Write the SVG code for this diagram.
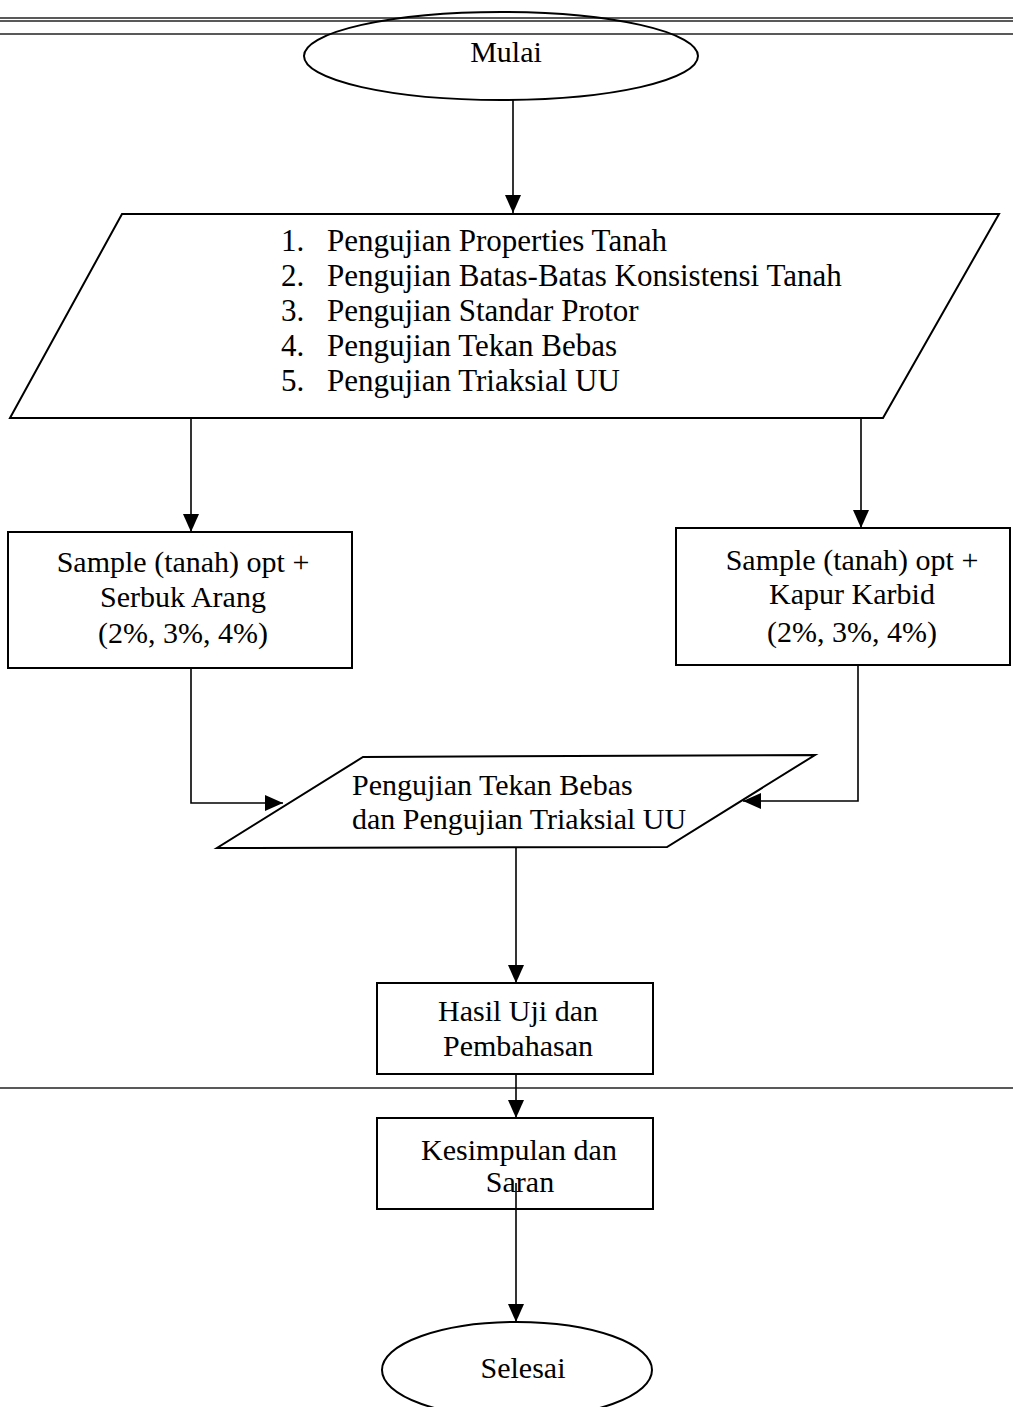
<svg xmlns="http://www.w3.org/2000/svg" width="1013" height="1407" viewBox="0 0 1013 1407">
<style>
.s{fill:#fff;stroke:#000;stroke-width:2}
.c{fill:none;stroke:#000;stroke-width:1.6}
.rule{stroke:#222;stroke-width:1.4}
text{font-family:"Liberation Serif","Times New Roman",serif;font-size:30px;fill:#000}
.l{font-size:31px}
.m{text-anchor:middle}
</style>
<defs>
<marker id="ah" markerWidth="20" markerHeight="16" refX="18" refY="8" orient="auto" markerUnits="userSpaceOnUse">
<path d="M0,0 L18,8 L0,16 Z" fill="#000"/>
</marker>
</defs>
<rect width="1013" height="1407" fill="#fff"/>
<g id="rules">
<line class="rule" x1="0" y1="18" x2="1013" y2="18"/>
<line class="rule" x1="0" y1="21" x2="1013" y2="21"/>
<line class="rule" x1="0" y1="34" x2="1013" y2="34" stroke-width="1.8"/>
<line class="rule" x1="0" y1="1088" x2="1013" y2="1088"/>
</g>
<g id="mulai">
<ellipse class="s" style="fill:none" cx="501" cy="56" rx="197" ry="44"/>
<text class="m" x="506" y="62">Mulai</text>
</g>
<g id="pengujian-list">
<polygon class="s" points="122,214 999,214 883,418 10,418"/>
<text class="l" x="281" y="251">1.</text><text class="l" x="327" y="251">Pengujian Properties Tanah</text>
<text class="l" x="281" y="286">2.</text><text class="l" x="327" y="286">Pengujian Batas-Batas Konsistensi Tanah</text>
<text class="l" x="281" y="321">3.</text><text class="l" x="327" y="321">Pengujian Standar Protor</text>
<text class="l" x="281" y="356">4.</text><text class="l" x="327" y="356">Pengujian Tekan Bebas</text>
<text class="l" x="281" y="391">5.</text><text class="l" x="327" y="391">Pengujian Triaksial UU</text>
</g>
<g id="sample-arang">
<rect class="s" x="8" y="532" width="344" height="136"/>
<text class="m" x="183" y="572">Sample (tanah) opt +</text>
<text class="m" x="183" y="607">Serbuk Arang</text>
<text class="m" x="183" y="643">(2%, 3%, 4%)</text>
</g>
<g id="sample-karbid">
<rect class="s" x="676" y="528" width="334" height="137"/>
<text class="m" x="852" y="570">Sample (tanah) opt +</text>
<text class="m" x="852" y="604">Kapur Karbid</text>
<text class="m" x="852" y="642">(2%, 3%, 4%)</text>
</g>
<g id="uji-tekan-triaksial">
<polygon class="s" style="fill:none" points="363,757 815,755 667,847 217,848"/>
<text x="352" y="795">Pengujian Tekan Bebas</text>
<text x="352" y="829">dan Pengujian Triaksial UU</text>
</g>
<g id="hasil">
<rect class="s" x="377" y="983" width="276" height="91"/>
<text class="m" x="518" y="1021">Hasil Uji dan</text>
<text class="m" x="518" y="1056">Pembahasan</text>
</g>
<g id="kesimpulan">
<rect class="s" x="377" y="1118" width="276" height="91"/>
<text class="m" x="519" y="1160">Kesimpulan dan</text>
<text class="m" x="520" y="1192">Saran</text>
</g>
<g id="selesai">
<ellipse class="s" cx="517" cy="1370" rx="135" ry="48"/>
<text class="m" x="523" y="1378">Selesai</text>
</g>
<g id="connectors">
<line class="c" x1="513" y1="100" x2="513" y2="213" marker-end="url(#ah)"/>
<line class="c" x1="191" y1="419" x2="191" y2="532" marker-end="url(#ah)"/>
<line class="c" x1="861" y1="419" x2="861" y2="528" marker-end="url(#ah)"/>
<polyline class="c" points="191,668 191,803 283,803" marker-end="url(#ah)"/>
<polyline class="c" points="858,665 858,801 743,801" marker-end="url(#ah)"/>
<line class="c" x1="516" y1="848" x2="516" y2="983" marker-end="url(#ah)"/>
<line class="c" x1="516" y1="1074" x2="516" y2="1118" marker-end="url(#ah)"/>
<line class="c" x1="516" y1="1183" x2="516" y2="1322" marker-end="url(#ah)"/>
</g>
</svg>
